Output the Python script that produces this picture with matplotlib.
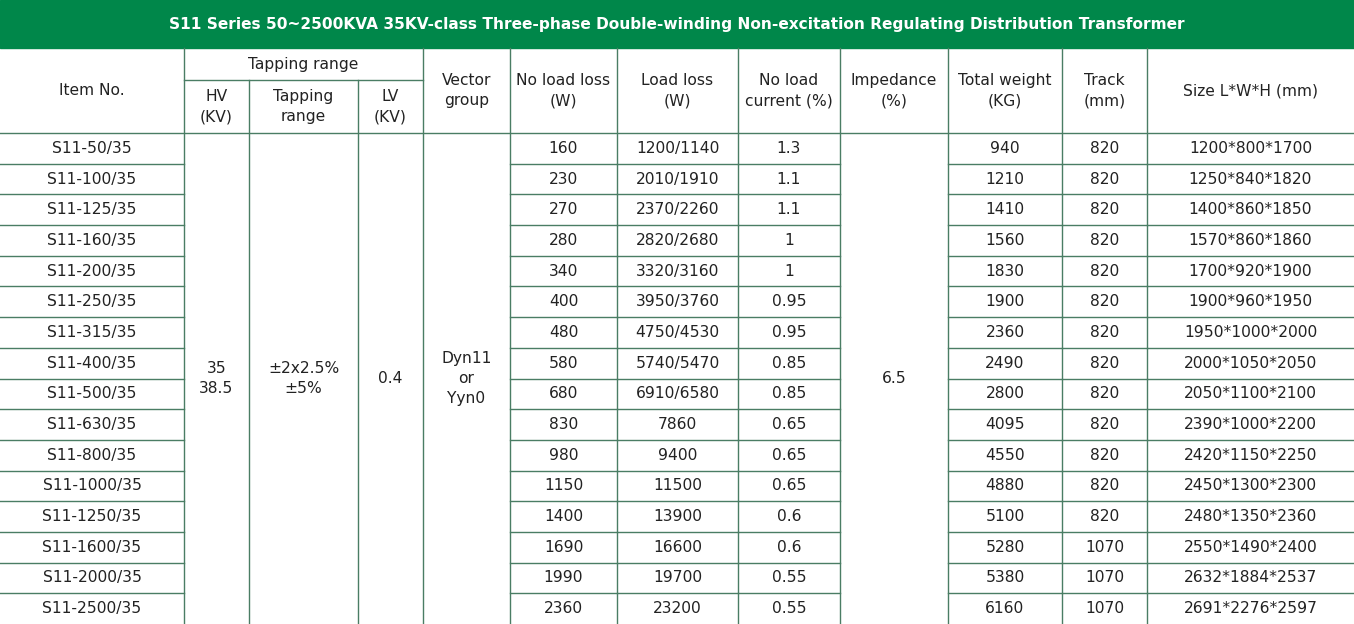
import matplotlib
matplotlib.use('Agg')
import matplotlib.pyplot as plt
from matplotlib.patches import Rectangle

title = "S11 Series 50~2500KVA 35KV-class Three-phase Double-winding Non-excitation Regulating Distribution Transformer"
items = ["S11-50/35", "S11-100/35", "S11-125/35", "S11-160/35", "S11-200/35", "S11-250/35",
         "S11-315/35", "S11-400/35", "S11-500/35", "S11-630/35", "S11-800/35", "S11-1000/35",
         "S11-1250/35", "S11-1600/35", "S11-2000/35", "S11-2500/35"]
no_load_loss = ["160", "230", "270", "280", "340", "400", "480", "580", "680", "830", "980",
                "1150", "1400", "1690", "1990", "2360"]
load_loss = ["1200/1140", "2010/1910", "2370/2260", "2820/2680", "3320/3160", "3950/3760",
             "4750/4530", "5740/5470", "6910/6580", "7860", "9400", "11500", "13900", "16600",
             "19700", "23200"]
no_load_current = ["1.3", "1.1", "1.1", "1", "1", "0.95", "0.95", "0.85", "0.85", "0.65",
                   "0.65", "0.65", "0.6", "0.6", "0.55", "0.55"]
total_weight = ["940", "1210", "1410", "1560", "1830", "1900", "2360", "2490", "2800", "4095",
                "4550", "4880", "5100", "5280", "5380", "6160"]
track = ["820"] * 13 + ["1070"] * 3
size = ["1200*800*1700", "1250*840*1820", "1400*860*1850", "1570*860*1860", "1700*920*1900",
        "1900*960*1950", "1950*1000*2000", "2000*1050*2050", "2050*1100*2100", "2390*1000*2200",
        "2420*1150*2250", "2450*1300*2300", "2480*1350*2360", "2550*1490*2400", "2632*1884*2537",
        "2691*2276*2597"]
hv = "35\n38.5"
tap = "±2x2.5%\n±5%"
lv = "0.4"
vector = "Dyn11\nor\nYyn0"
impedance = "6.5"

# layout in pixels
W, H = 1354, 624
cols = [0, 184, 249, 358, 423, 510, 617, 738, 840, 948, 1062, 1147, 1354]
top_bar = 48
sub_y = 80
head_bot = 133
rh = (H - head_bot) / len(items)
green = '#00874a'
line = '#4a7d64'
tc = '#222222'
fs = 11.2

fig = plt.figure(figsize=(W / 100, H / 100), dpi=100)
ax = fig.add_axes([0, 0, 1, 1])
ax.set_xlim(0, W)
ax.set_ylim(H, 0)
ax.axis('off')

ax.add_patch(Rectangle((0, 0), W, top_bar, color=green, zorder=0))
ax.text(W / 2, top_bar / 2, title, color='white', fontsize=11.1, fontweight='bold',
        ha='center', va='center')

def cx(i):
    return (cols[i] + cols[i + 1]) / 2

def txt(x, y, s):
    ax.text(x, y, s, ha='center', va='center', fontsize=fs, color=tc, linespacing=1.45)

# header
hmid = (top_bar + head_bot) / 2
txt(cx(0), hmid, "Item No.")
txt((cols[1] + cols[4]) / 2, (top_bar + sub_y) / 2 + 1, "Tapping range")
smid = (sub_y + head_bot) / 2
txt(cx(1), smid, "HV\n(KV)")
txt(cx(2), smid, "Tapping\nrange")
txt(cx(3), smid, "LV\n(KV)")
heads = ["Vector\ngroup", "No load loss\n(W)", "Load loss\n(W)", "No load\ncurrent (%)",
         "Impedance\n(%)", "Total weight\n(KG)", "Track\n(mm)", "Size L*W*H (mm)"]
for i, h in enumerate(heads):
    txt(cx(4 + i), hmid, h)

# body
bmid = (head_bot + H) / 2
for i, s in enumerate([hv, tap, lv, vector]):
    txt(cx(1 + i), bmid, s)
txt(cx(8), bmid, impedance)
for r in range(len(items)):
    y = head_bot + (r + 0.5) * rh
    for c, col in [(0, items), (5, no_load_loss), (6, load_loss), (7, no_load_current),
                   (9, total_weight), (10, track), (11, size)]:
        txt(cx(c), y, col[r])

# grid lines
lw = 1.0
for x in cols[1:-1]:
    y0 = sub_y if x in (cols[2], cols[3]) else top_bar
    ax.plot([x, x], [y0, H], color=line, lw=lw)
ax.plot([cols[1], cols[4]], [sub_y, sub_y], color=line, lw=lw)
ax.plot([0, W], [head_bot, head_bot], color=line, lw=lw)
for r in range(1, len(items)):
    y = head_bot + r * rh
    for c in [0, 5, 6, 7, 9, 10, 11]:
        ax.plot([cols[c], cols[c + 1]], [y, y], color=line, lw=lw)

plt.savefig('out.png', dpi=100)
plt.close()
